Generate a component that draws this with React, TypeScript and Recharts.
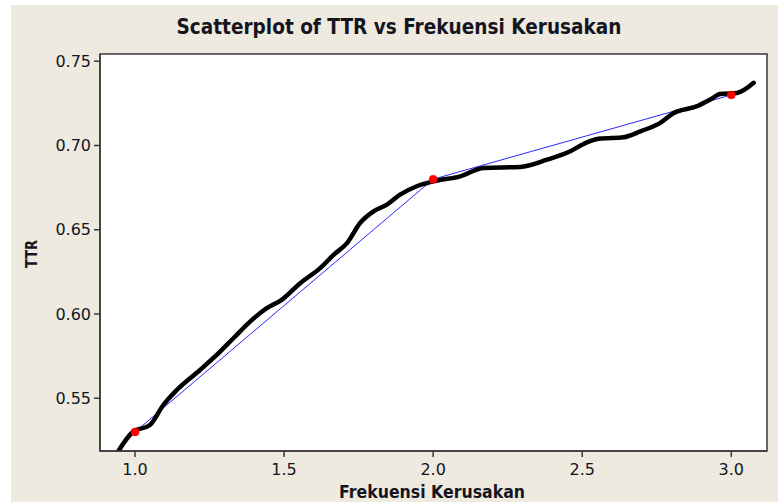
import React from 'react';
import {
  ComposedChart,
  Line,
  XAxis,
  YAxis,
  ReferenceArea
} from 'recharts';

// Titik data pengamatan (merah) dan garis penghubung (biru)
const frekuensi = [1, 2, 3];
const ttr = [0.53, 0.68, 0.73];

// Kurva tangan hitam
const kurvaX = [
  0.935, 0.994, 1.05, 1.095, 1.14, 1.218, 1.274, 1.33, 1.386, 1.442, 1.492, 1.554,
  1.621, 1.666, 1.711, 1.755, 1.8, 1.845, 1.889, 1.945, 2.001, 2.091, 2.169, 2.292,
  2.382, 2.46, 2.516, 2.56, 2.639, 2.695, 2.762, 2.807, 2.885, 2.93, 2.963, 3.019, 3.075
];
const kurvaY = [
  0.516, 0.5302, 0.5341, 0.546, 0.5549, 0.5668, 0.5757, 0.5856, 0.5955, 0.6035, 0.6084, 0.6183,
  0.6272, 0.6351, 0.6421, 0.654, 0.6609, 0.6649, 0.6708, 0.6758, 0.6787, 0.6817, 0.6867, 0.6873,
  0.6916, 0.6966, 0.7019, 0.7041, 0.7049, 0.7084, 0.7134, 0.7193, 0.7233, 0.7273, 0.7306, 0.7312, 0.7372
];

const xTicks = [1, 1.5, 2, 2.5, 3];
const yTicks = [0.55, 0.6, 0.65, 0.7, 0.75];
const xDomain: [number, number] = [0.8826, 3.1198];
const yDomain: [number, number] = [0.5187, 0.7543];

const titikData = frekuensi.map((x, i) => ({ x, y: ttr[i] }));
const kurvaData = kurvaX.map((x, i) => ({ x, y: kurvaY[i] }));

const W = 778;
const H = 502;
const BEIGE = '#EEEAE0';
const AXIS = '#3a3a3a';
const TEXT = '#15151f';
const FONT = '"DejaVu Sans", Verdana, sans-serif';

const tickStyle = { fontSize: 16, fontFamily: FONT, fill: TEXT };

const App = () => {
  return (
    <div style={{ position: 'absolute', left: 0, top: 0, width: W, height: H, background: '#ffffff' }}>
      <div style={{ position: 'absolute', left: 11, top: 5, right: 0, bottom: 0, background: BEIGE }} />

      <div style={{ position: 'absolute', left: 0, top: 0 }}>
        <ComposedChart width={W} height={H} margin={{ top: 54, right: 11, bottom: 0, left: 0 }}>
          <XAxis
            dataKey="x"
            type="number"
            domain={xDomain}
            ticks={xTicks}
            allowDataOverflow
            height={51}
            tickSize={6}
            tickMargin={7}
            tick={tickStyle}
            tickFormatter={(v: number) => v.toFixed(1)}
            stroke={AXIS}
            strokeWidth={1.5}
          />
          <YAxis
            dataKey="y"
            type="number"
            domain={yDomain}
            ticks={yTicks}
            allowDataOverflow
            width={100}
            tickSize={6}
            tickMargin={3}
            tick={tickStyle}
            tickFormatter={(v: number) => v.toFixed(2)}
            stroke={AXIS}
            strokeWidth={1.5}
          />
          <ReferenceArea
            x1={xDomain[0]}
            x2={xDomain[1]}
            y1={yDomain[0]}
            y2={yDomain[1]}
            fill="#ffffff"
            fillOpacity={1}
            stroke={AXIS}
            strokeWidth={1.5}
          />
          <Line
            data={titikData}
            dataKey="y"
            type="linear"
            stroke="#2a2aff"
            strokeWidth={1}
            dot={{ r: 4, fill: '#ff0000', stroke: '#ff0000', strokeWidth: 0.5 }}
            activeDot={false}
            isAnimationActive={false}
          />
          <Line
            data={kurvaData}
            dataKey="y"
            type="monotone"
            stroke="#000000"
            strokeWidth={4.5}
            strokeLinejoin="round"
            strokeLinecap="round"
            dot={false}
            activeDot={false}
            isAnimationActive={false}
          />
        </ComposedChart>
      </div>

      <svg width={W} height={H} style={{ position: 'absolute', left: 0, top: 0, pointerEvents: 'none' }}>
        <text
          x={399}
          y={34}
          textAnchor="middle"
          fontFamily={FONT}
          fontWeight="bold"
          fontSize={22}
          fill={TEXT}
          textLength={445}
          lengthAdjust="spacingAndGlyphs"
        >
          Scatterplot of TTR vs Frekuensi Kerusakan
        </text>
        <text
          x={432}
          y={498}
          textAnchor="middle"
          fontFamily={FONT}
          fontWeight="bold"
          fontSize={17}
          fill={TEXT}
          textLength={186}
          lengthAdjust="spacingAndGlyphs"
        >
          Frekuensi Kerusakan
        </text>
        <text
          x={0}
          y={0}
          transform="translate(36.7,254) rotate(-90)"
          textAnchor="middle"
          fontFamily={FONT}
          fontWeight="bold"
          fontSize={16}
          fill={TEXT}
          textLength={28}
          lengthAdjust="spacingAndGlyphs"
        >
          TTR
        </text>
      </svg>
    </div>
  );
};

export default App;
